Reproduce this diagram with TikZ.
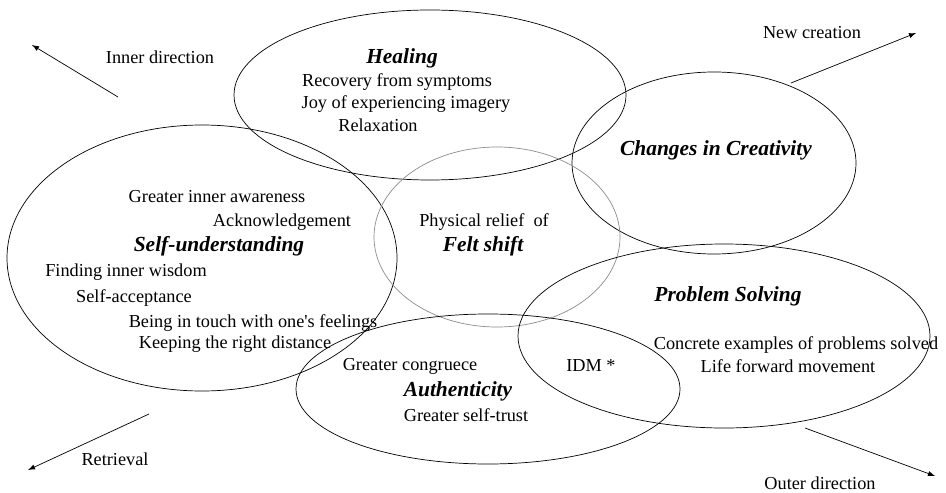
\documentclass[tikz,border=0pt]{standalone}
\usepackage{fontspec}
\setmainfont{Liberation Serif}
\tikzset{
  txt/.style={font=\fontsize{10.4}{12}\selectfont, inner sep=0pt},
  head/.style={font=\fontsize{12.2}{14}\selectfont\bfseries\itshape, inner sep=0pt},
  dir/.style={-latex, thin}
}
\begin{document}
\begin{tikzpicture}
        \useasboundingbox (0,0) rectangle (18.92,9.84);
        % circles
        \draw (8.60,7.94) ellipse [x radius=3.92, y radius=1.70];
        \draw (14.28,6.58) ellipse [x radius=2.84, y radius=1.82];
        \draw (4.04,4.68) ellipse [x radius=3.90, y radius=2.66];
        \draw[black!45] (9.94,5.10) ellipse [x radius=2.46, y radius=1.80];
        \draw (14.48,3.12) ellipse [x radius=4.12, y radius=1.84];
        \draw (9.76,2.06) ellipse [x radius=3.84, y radius=1.50];
        % healing
        \node[head] (heal) at (8.04,8.68){Healing};
        \node[txt] (heal1) at (7.94,8.20){Recovery from symptoms};
        \node[txt] (heal2) at (8.12,7.76){Joy of experiencing imagery};
        \node[txt] (heal3) at (7.56,7.34){Relaxation};
        % creativity
        \node[head] (crea) at (14.32,6.84){Changes in Creativity};
        % self-understanding
        \node[txt] (self1) at (4.34,5.90){Greater inner awareness};
        \node[txt] (self2) at (5.64,5.40){Acknowledgement};
        \node[head] (self) at (4.38,4.92){Self-understanding};
        \node[txt] (self3) at (2.52,4.40){Finding inner wisdom};
        \node[txt] (self4) at (2.68,3.88){Self-acceptance};
        \node[txt] (self5) at (5.06,3.38){Being in touch with one\textquotesingle s feelings};
        \node[txt] (self6) at (4.70,2.96){Keeping the right distance};
        % felt shift
        \node[txt] (felt1) at (9.68,5.40){Physical relief~ of};
        \node[head] (felt) at (9.66,4.92){Felt shift};
        % authenticity
        \node[txt] (auth1) at (8.20,2.52){Greater congruece};
        \node[head] (auth) at (9.16,2.02){Authenticity};
        \node[txt] (auth2) at (9.32,1.54){Greater self-trust};
        \node[txt] (idm) at (11.82,2.52){IDM *};
        % problem solving
        \node[head] (prob) at (14.56,3.92){Problem Solving};
        \node[txt] (prob1) at (15.92,2.94){Concrete examples of problems solved};
        \node[txt] (prob2) at (15.76,2.52){Life forward movement};
        % directions
        \coordinate (in1) at (2.36,7.90);
        \coordinate (in2) at (0.64,8.94);
        \coordinate (new1) at (15.82,8.18);
        \coordinate (new2) at (18.32,9.18);
        \coordinate (ret1) at (2.98,1.56);
        \coordinate (ret2) at (0.56,0.44);
        \coordinate (out1) at (16.10,1.28);
        \coordinate (out2) at (18.70,0.32);
        \draw[dir] (in1) to (in2);
        \draw[dir] (new1) to (new2);
        \draw[dir] (ret1) to (ret2);
        \draw[dir] (out1) to (out2);
        \node[txt] (inner) at (3.20,8.70){Inner direction};
        \node[txt] (newc) at (16.24,9.18){New creation};
        \node[txt] (retr) at (2.30,0.66){Retrieval};
        \node[txt] (outer) at (16.40,0.18){Outer direction};
        \end{tikzpicture}
\end{document}
